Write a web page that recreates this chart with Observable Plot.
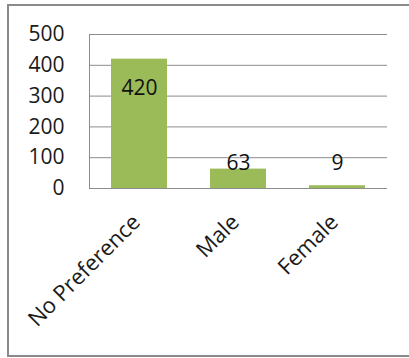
<!DOCTYPE html>
<html>
<head>
<meta charset="utf-8">
<script src="https://cdn.jsdelivr.net/npm/d3@7"></script>
<script src="https://cdn.jsdelivr.net/npm/@observablehq/plot@0.6"></script>
<style>
  body { margin: 0; background: #fff; }
  #wrap { position: relative; width: 409px; height: 358px; overflow: hidden; }
  #box { position: absolute; left: 7px; top: 4px; width: 430px; height: 353px; border: 2px solid #8a8a8a; box-sizing: border-box; }
  #chart { position: absolute; left: 0; top: 0; }
</style>
</head>
<body>
<div id="wrap"><div id="box"></div><div id="chart"></div></div>
<script>
// Gender preference counts
const categories = ["No Preference", "Male", "Female"];
const counts = [420, 63, 9];
const yTicks = [0, 100, 200, 300, 400, 500];

const data = categories.map((category, i) => ({category, count: counts[i]}));
const font = "'Open Sans', sans-serif";
const grid = "#8c8c8c";

const chart = Plot.plot({
  width: 409,
  height: 358,
  marginLeft: 89,
  marginRight: 22,
  marginTop: 34,
  marginBottom: 170,
  style: {fontFamily: font, fontSize: "21px", color: "#1a1a1a", background: "transparent"},
  x: {domain: categories, paddingInner: 0.434, paddingOuter: 0.222},
  y: {domain: [0, 500]},
  marks: [
    Plot.ruleY(yTicks.filter(t => t > 0), {stroke: grid, strokeWidth: 1}),
    Plot.barY(data, {x: "category", y: "count", fill: "#9bbb59"}),
    Plot.ruleY([0], {stroke: grid, strokeWidth: 1}),
    Plot.frame({anchor: "left", stroke: grid, strokeWidth: 1}),
    Plot.axisY({ticks: yTicks, tickSize: 0, tickPadding: 25, label: null, fontSize: 21}),
    Plot.axisX({tickSize: 0, tickPadding: 30, dx: -3, tickRotate: -45, label: null, fontSize: 22}),
    // value labels: inside the top of tall bars, just above short ones
    Plot.text(data.filter(d => d.count > 200), {
      x: "category", y: "count", text: d => String(d.count),
      dy: 29, lineAnchor: "middle", fontSize: 21, fill: "#111"
    }),
    Plot.text(data.filter(d => d.count <= 200), {
      x: "category", y: d => Math.max(d.count, 81), text: d => String(d.count),
      lineAnchor: "middle", fontSize: 21, fill: "#111"
    })
  ]
});
document.getElementById("chart").append(chart);
</script>
</body>
</html>
